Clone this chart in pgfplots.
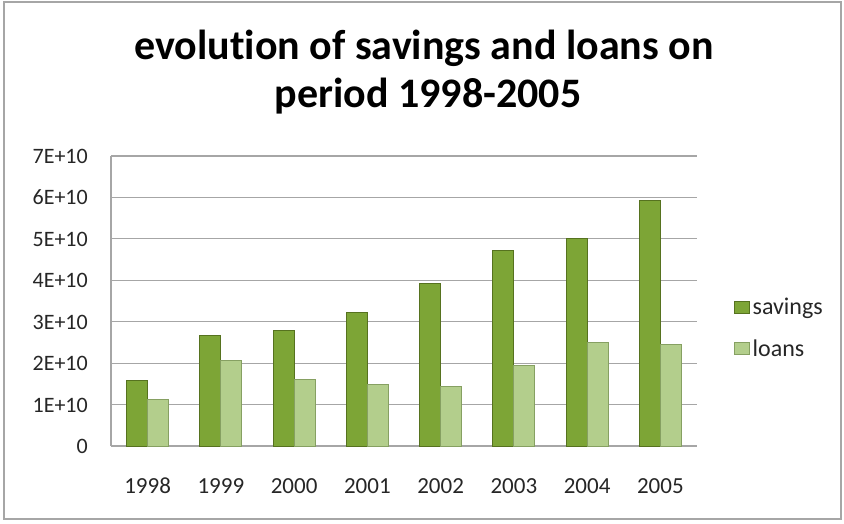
\documentclass[border=0pt]{standalone}
\usepackage{pgfplots}
\pgfplotsset{compat=1.18}
\usepackage{fontspec}
\setmainfont{Carlito}[Ligatures={NoCommon}]
\definecolor{savdark}{HTML}{56721F}
\definecolor{savmid}{HTML}{7DA536}
\definecolor{loandark}{HTML}{86A062}
\definecolor{loanmid}{HTML}{B3CE8C}
\definecolor{gridgray}{HTML}{A6A6A6}
\begin{document}
\begin{tikzpicture}[x=1pt,y=1pt]
\path (0,0) rectangle (844,523);
\draw[gray!70, line width=1.2pt] (4,4) rectangle (841,521);
\node[anchor=base, font=\fontsize{42}{50}\selectfont\bfseries] at (424,463) {evolution of savings and loans on};
\node[anchor=base, font=\fontsize{42}{50}\selectfont\bfseries] at (428,415) {period 1998-2005};
\begin{axis}[
  at={(111pt,77pt)}, anchor=south west,
  scale only axis, width=586pt, height=290pt,
  xmin=-0.5, xmax=7.5, ymin=0, ymax=7e10,
  xtick=data,
  xticklabels={1998,1999,2000,2001,2002,2003,2004,2005},
  ytick={0,1e10,2e10,3e10,4e10,5e10,6e10,7e10},
  yticklabels={0,1E+10,2E+10,3E+10,4E+10,5E+10,6E+10,7E+10},
  scaled y ticks=false,
  major tick length=0pt,
  tick style={draw=none},
  axis x line*=bottom, axis y line*=left,
  axis line style={-, draw=gridgray, line width=1.2pt},
  ymajorgrids, grid style={draw=gridgray, line width=1.2pt},
  xticklabel style={font=\fontsize{23}{27}\selectfont, anchor=base, inner sep=0pt, yshift=-47pt, text=black!85},
  yticklabel style={font=\fontsize{22}{26}\selectfont, anchor=base east, inner sep=0pt, xshift=-23pt, yshift=-7.5pt, text=black!85},
  ybar, bar width=21pt,
  legend style={at={(1.063,0.407)}, anchor=west, draw=none, fill=none,
    font=\fontsize{24}{28}\selectfont, row sep=18pt, inner sep=0pt,
    legend cell align=left, text=black!85,
    nodes={inner sep=2.5pt}},
  legend image code/.code={\draw[#1,/tikz/.cd,bar shift=0pt] (0pt,-6pt) rectangle (15pt,6pt);},
]
\addplot[bar shift=-10.5pt, draw=savdark, line width=1pt, fill=savmid] coordinates {
 (0,1.57e10) (1,2.66e10) (2,2.79e10) (3,3.23e10) (4,3.93e10) (5,4.71e10) (6,5.00e10) (7,5.93e10)};
\addplot[bar shift=10.5pt, draw=loandark, line width=1pt, fill=loanmid] coordinates {
 (0,1.12e10) (1,2.06e10) (2,1.60e10) (3,1.49e10) (4,1.44e10) (5,1.95e10) (6,2.51e10) (7,2.46e10)};
\legend{savings,loans}
\end{axis}
\end{tikzpicture}
\end{document}
